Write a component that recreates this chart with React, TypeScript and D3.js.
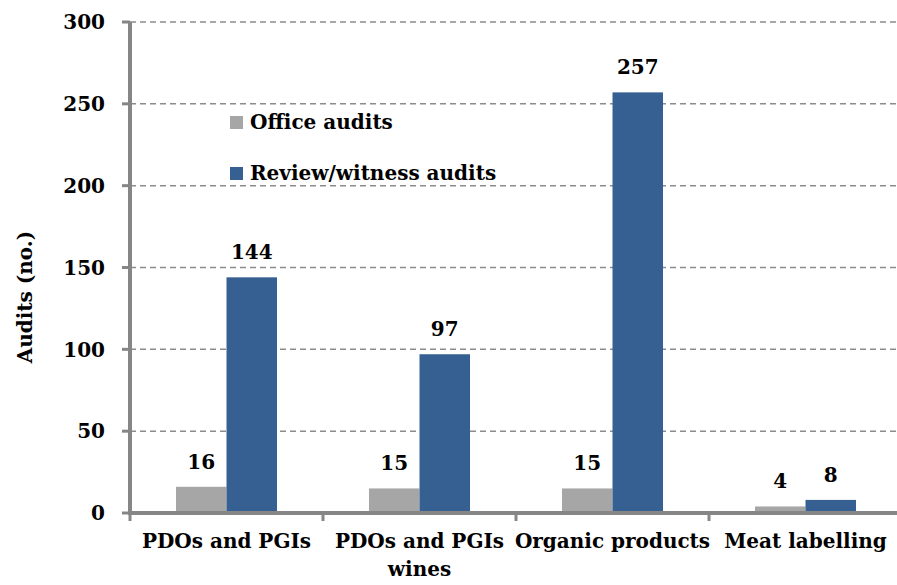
import React from 'react';
import * as d3 from 'd3';

const categories = ['PDOs and PGIs', 'PDOs and PGIs wines', 'Organic products', 'Meat labelling'];
const categoryLines = [['PDOs and PGIs'], ['PDOs and PGIs', 'wines'], ['Organic products'], ['Meat labelling']];
const seriesNames = ['Office audits', 'Review/witness audits'];
const officeAudits = [16, 15, 15, 4];
const reviewAudits = [144, 97, 257, 8];
const yTicks = [0, 50, 100, 150, 200, 250, 300];
const colors = ['#A6A6A6', '#376092'];

const W = 897;
const H = 585;
const FONT = '"DejaVu Serif", serif';

export default function App() {
  const margin = { left: 130, top: 22, bottom: 513 };
  const y = d3.scaleLinear().domain([0, 300]).range([margin.bottom, margin.top]);
  const x = d3.scaleBand<string>().domain(categories).range([margin.left, margin.left + 193 * 4]);
  const groupW = 101;
  const x1 = d3.scaleBand<number>().domain([0, 1]).range([0, groupW]);
  const values = [officeAudits, reviewAudits];

  const textStyle = { fontFamily: FONT, fontWeight: 700, fontSize: 20, fill: '#000' } as const;

  return (
    <svg width={W} height={H} style={{ position: 'absolute', left: 0, top: 0, background: '#fff' }}>
      {/* gridlines */}
      {yTicks.filter(t => t > 0).map(t => (
        <line key={t} x1={margin.left} x2={W} y1={y(t)} y2={y(t)}
          stroke="#8C8C8C" strokeWidth={1.5} strokeDasharray="6,4" />
      ))}

      {/* bars */}
      {categories.map((c, i) => {
        const gx = (x(c) as number) + (x.bandwidth() - groupW) / 2;
        return (
          <g key={c}>
            {values.map((vals, s) => (
              <g key={s}>
                <rect x={gx + (x1(s) as number)} y={y(vals[i])} width={x1.bandwidth()}
                  height={y(0) - y(vals[i])} fill={colors[s]} />
                <text x={gx + (x1(s) as number) + x1.bandwidth() / 2} y={y(vals[i]) - 18}
                  textAnchor="middle" style={textStyle}>{vals[i]}</text>
              </g>
            ))}
          </g>
        );
      })}

      {/* y axis */}
      <line x1={margin.left} x2={margin.left} y1={margin.top} y2={margin.bottom + 2} stroke="#868686" strokeWidth={4} />
      {yTicks.map(t => (
        <g key={t}>
          <line x1={margin.left - 8} x2={margin.left} y1={y(t)} y2={y(t)} stroke="#868686" strokeWidth={3} />
          <text x={105} y={y(t)} dy="0.36em" textAnchor="end" style={textStyle}>{t}</text>
        </g>
      ))}

      {/* x axis */}
      <line x1={margin.left - 2} x2={W} y1={margin.bottom} y2={margin.bottom} stroke="#868686" strokeWidth={4} />
      {categories.map(c => (
        <line key={c} x1={x(c) as number} x2={x(c) as number} y1={margin.bottom} y2={margin.bottom + 8}
          stroke="#868686" strokeWidth={3} />
      ))}
      {categories.map((c, i) => (
        <text key={c} x={(x(c) as number) + x.bandwidth() / 2} y={548} textAnchor="middle" style={textStyle}>
          {categoryLines[i].map((ln, k) => (
            <tspan key={k} x={(x(c) as number) + x.bandwidth() / 2} dy={k === 0 ? 0 : 28}>{ln}</tspan>
          ))}
        </text>
      ))}

      {/* y title */}
      <text transform={`translate(32, 297) rotate(-90)`} textAnchor="middle" style={textStyle}>Audits (no.)</text>

      {/* legend */}
      {seriesNames.map((n, s) => (
        <g key={n} transform={`translate(230, ${116 + s * 51})`}>
          <rect x={0} y={0} width={13} height={13} fill={colors[s]} />
          <text x={20} y={13} style={textStyle}>{n}</text>
        </g>
      ))}
    </svg>
  );
}
